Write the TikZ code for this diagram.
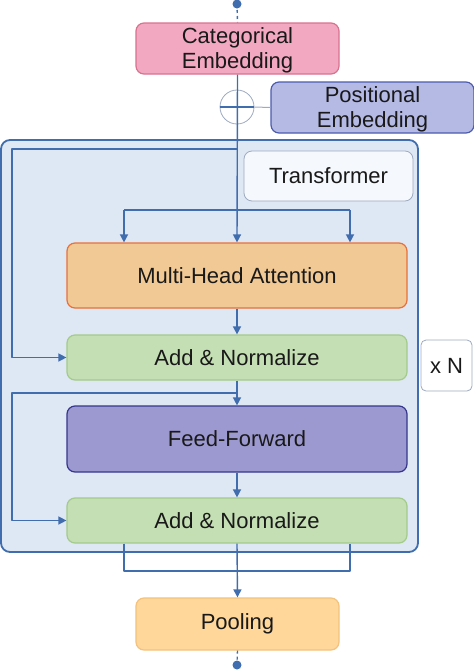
\documentclass[tikz,border=0pt]{standalone}
\usepackage{fontspec}
\setmainfont{Liberation Sans}
\usetikzlibrary{arrows.meta, positioning}
\definecolor{link_blue}{HTML}{3F6DAE}
\definecolor{frame_fill}{HTML}{DEE7F4}
\definecolor{cat_fill}{HTML}{F2A8C1}
\definecolor{cat_line}{HTML}{D9728F}
\definecolor{pos_fill}{HTML}{B5BAE5}
\definecolor{pos_line}{HTML}{4B5BAE}
\definecolor{att_fill}{HTML}{F1C994}
\definecolor{att_line}{HTML}{E8703A}
\definecolor{norm_fill}{HTML}{C5DFB4}
\definecolor{norm_line}{HTML}{A3CB8B}
\definecolor{ff_fill}{HTML}{9C99D0}
\definecolor{ff_line}{HTML}{36368C}
\definecolor{pool_fill}{HTML}{FFD79B}
\definecolor{pool_line}{HTML}{F3C27C}
\definecolor{tag_line}{HTML}{9EAAC0}
\tikzset{
	block/.style={draw, rounded corners=8pt, line width=1.2pt, align=center,
		font=\fontsize{22}{25}\selectfont, text=black!90, inner sep=0pt},
	link/.style={draw=link_blue, line width=1.4pt},
	tip/.style={-{Triangle[length=8pt,width=8pt]}}
}

\begin{document}
\begin{tikzpicture}[x=1pt,y=-1pt,line join=round]
		\useasboundingbox (0,0) rectangle (474,670);
		\begin{scope}
		\draw[draw=link_blue, fill=frame_fill, line width=1.8pt, rounded corners=9pt] (1,140) rectangle (418,552);
		\node[block, fill=cat_fill, draw=cat_line, minimum width=203pt, minimum height=51pt, text depth=-2pt] (cat) at (237.5,48.5) {Categorical\\Embedding};
		\node[block, fill=pos_fill, draw=pos_line, minimum width=203pt, minimum height=51pt, text depth=-2pt] (pos) at (372.5,107.5) {Positional\\Embedding};
		\node[block, fill=white!70!frame_fill, draw=tag_line, line width=0.8pt, minimum width=169pt, minimum height=50pt] (tag) at (328.5,176) {Transformer};
		\node[block, fill=att_fill, draw=att_line, minimum width=340pt, minimum height=65pt] (att) at (237,275.5) {Multi-Head Attention};
		\node[block, fill=norm_fill, draw=norm_line, minimum width=340pt, minimum height=45pt] (norm1) at (237,357.5) {Add \& Normalize};
		\node[block, fill=ff_fill, draw=ff_line, minimum width=340pt, minimum height=66pt] (ff) at (237,439) {Feed-Forward};
		\node[block, fill=norm_fill, draw=norm_line, minimum width=340pt, minimum height=45pt] (norm2) at (237,520.5) {Add \& Normalize};
		\node[block, fill=white, draw=tag_line, line width=0.8pt, rounded corners=5pt, minimum width=51pt, minimum height=51pt] (times) at (446.5,365.5) {x N};
		\node[block, fill=pool_fill, draw=pool_line, minimum width=203pt, minimum height=52pt] (pool) at (237.5,624) {Pooling};
		\node[circle, draw=tag_line, line width=0.8pt, minimum size=34pt, inner sep=0pt] (sum) at (237,107) {};
		\end{scope}
		\coordinate (src) at (237,4);
		\coordinate (dst) at (237,665);
		\coordinate (skip1) at (237,149);
		\coordinate (lane1) at (12,149);
		\coordinate (skip2) at (237,393);
		\coordinate (lane2) at (12,393);
		\coordinate (qkv) at (237,210);
		\coordinate (join) at (237,571);
		\fill[link_blue] (src) circle (4.5pt);
		\fill[link_blue] (dst) circle (4.5pt);
		\draw[link, dashed] (src) -- (cat.north);
		\draw[link, dashed] (pool.south) -- (dst);
		\draw[link, line width=1.2pt] (sum.west) -- (sum.east);
		\draw[draw=tag_line, line width=1pt] (sum.east) -- (pos.west);
		\draw[link, tip] (cat.south) -- (att.north);
		\draw[link, tip] (skip1) -- (lane1) |- (norm1.west);
		\draw[link] ([xshift=-113pt]qkv) -- ([xshift=113pt]qkv);
		\foreach \s in {-113,113}
			\draw[link, tip] ([xshift=\s pt]qkv) -- ([xshift=\s pt]qkv |- att.north);
		\draw[link, tip] (att.south) -- (norm1.north);
		\draw[link, tip] (norm1.south) -- (ff.north);
		\draw[link, tip] (skip2) -- (lane2) |- (norm2.west);
		\draw[link, tip] (ff.south) -- (norm2.north);
		\draw[link, tip] (norm2.south) -- (pool.north);
		\draw[link] ([xshift=-113pt]norm2.south) |- (join) -| ([xshift=113pt]norm2.south);
	\end{tikzpicture}
\end{document}
